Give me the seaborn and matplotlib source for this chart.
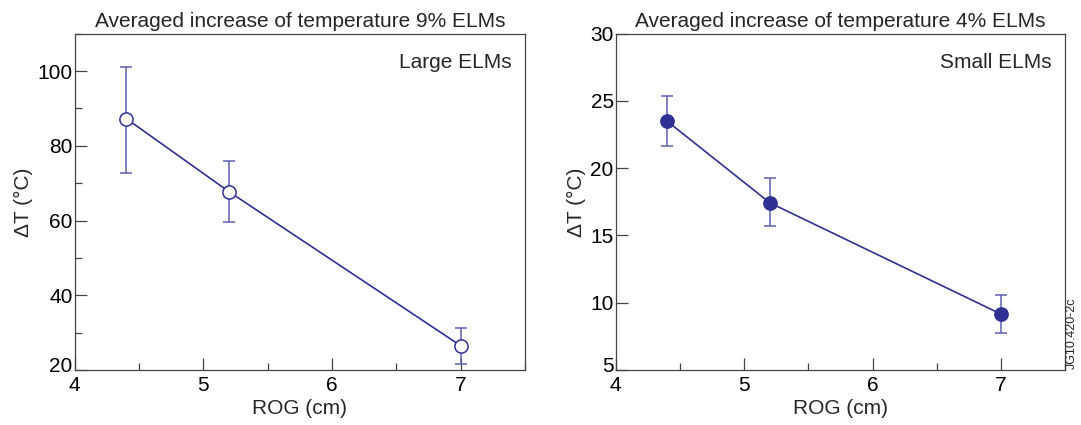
import matplotlib
matplotlib.use("Agg")
import matplotlib.pyplot as plt
from matplotlib.ticker import MultipleLocator
from matplotlib.transforms import ScaledTranslation
import seaborn as sns
import pandas as pd

# ---- data ----
rog = [4.4, 5.2, 7.0]
large_dt = [87.3, 67.7, 26.5]
large_lo = [72.8, 59.6, 21.5]
large_hi = [101.2, 75.9, 31.3]
small_dt = [23.5, 17.43, 9.16]
small_lo = [21.66, 15.69, 7.75]
small_hi = [25.35, 19.26, 10.54]

titles = ["Averaged increase of temperature 9% ELMs",
          "Averaged increase of temperature 4% ELMs"]
labels = ["Large ELMs", "Small ELMs"]
xticks = [4, 5, 6, 7]
large_yticks = [20, 40, 60, 80, 100]
small_yticks = [5, 10, 15, 20, 25, 30]

sns.set_theme(style="ticks")
plt.rcParams["font.family"] = ["Liberation Sans", "DejaVu Sans"]

LINE = "#2e3192"
ERR = "#5b5fb4"
AX = "#444444"
FS = 15

fig = plt.figure(figsize=(10.81, 4.25), dpi=100)
axL = fig.add_axes([0.0691, 0.1294, 0.4166, 0.7913])
axR = fig.add_axes([0.5696, 0.1294, 0.4157, 0.7913])

def panel(ax, y, lo, hi, filled, title, label, yticks, ylim, yminor):
    df = pd.DataFrame({"ROG": rog, "dT": y})
    yerr = [[v - l for v, l in zip(y, lo)], [h - v for v, h in zip(y, hi)]]
    ax.errorbar(rog, y, yerr=yerr, fmt="none", ecolor=ERR, elinewidth=1.1,
                capsize=4.3, capthick=1.1, zorder=2)
    sns.lineplot(data=df, x="ROG", y="dT", ax=ax, color=LINE, linewidth=1.2,
                 marker="o", markersize=9.5,
                 markerfacecolor=(LINE if filled else "white"),
                 markeredgecolor=LINE, markeredgewidth=1.1, zorder=3)
    ax.set_xlim(4, 7.5)
    ax.set_ylim(*ylim)
    ax.set_xticks(xticks)
    ax.set_xticklabels([str(t) for t in xticks])
    ax.xaxis.set_minor_locator(MultipleLocator(0.5))
    ax.set_yticks(yticks)
    ax.set_yticklabels([str(t) for t in yticks])
    if yminor:
        ax.yaxis.set_minor_locator(MultipleLocator(yminor))
    ax.tick_params(axis="both", which="major", direction="in", length=8.5,
                   width=0.9, color=AX, labelsize=FS, labelcolor="black")
    ax.tick_params(axis="both", which="minor", direction="in", length=5,
                   width=0.9, color=AX)
    ax.tick_params(axis="y", which="major", pad=1.5)
    ax.tick_params(axis="x", which="major", pad=4.5)
    # lift the lowest y label slightly, as in the reference
    lab0 = ax.get_yticklabels()[0]
    lab0.set_transform(lab0.get_transform() +
                       ScaledTranslation(0, 4 / 72, fig.dpi_scale_trans))
    for s in ax.spines.values():
        s.set_visible(True)
        s.set_color(AX)
        s.set_linewidth(0.9)
    ax.set_xlabel("ROG (cm)", fontsize=FS, labelpad=3)
    ax.set_ylabel("ΔT (°C)", fontsize=FS, labelpad=3)
    ax.set_title(title, fontsize=FS, pad=5)
    ax.text(0.971, 0.943, label, transform=ax.transAxes, ha="right", va="top",
            fontsize=FS)

panel(axL, large_dt, large_lo, large_hi, False, titles[0], labels[0],
      large_yticks, (20, 110), 10)
panel(axR, small_dt, small_lo, small_hi, True, titles[1], labels[1],
      small_yticks, (5, 30), None)

fig.text(1072 / 1081, 1 - 369 / 425, "JG10.420-2c", rotation=90,
         ha="center", va="bottom", fontsize=9)

fig.savefig("out.png", dpi=100)
